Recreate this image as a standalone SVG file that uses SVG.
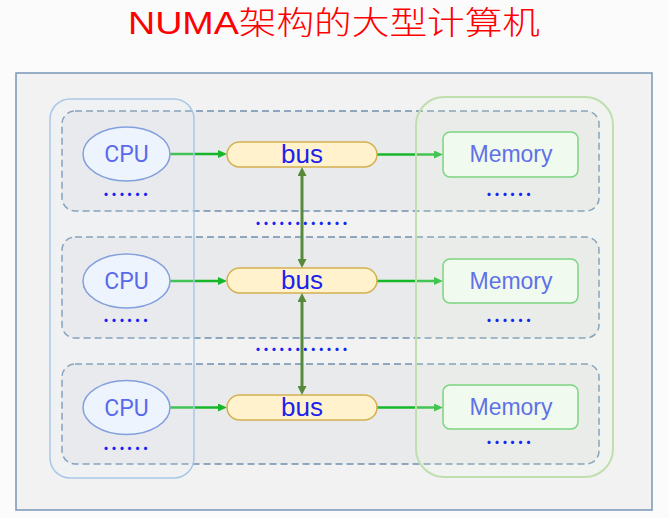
<svg xmlns="http://www.w3.org/2000/svg" width="669" height="518" viewBox="0 0 669 518">
  <style>
    .row { fill: #e9eaeb; stroke: #6f8eae; stroke-width: 1.5; stroke-dasharray: 7 4; }
    .cpu { fill: #f0f6ff; stroke: #6a8ad6; stroke-width: 1.5; }
    .bus { fill: #fff2cc; stroke: #d3b050; stroke-width: 1.5; }
    .mem { fill: #f3fbf1; stroke: #5fcc66; stroke-width: 1.5; }
    .t { font-family: "Liberation Sans", Arial, sans-serif; text-anchor: middle; }
    .tcpu { font-family: Roboto, "Liberation Sans", sans-serif; font-size: 23px; fill: #3246ea; text-anchor: middle; }
    .tbus { font-size: 26px; fill: #1b22f0; }
    .tmem { font-size: 23px; fill: #3a4ce8; }
    .dots { font-family: "Noto Sans CJK SC", sans-serif; font-size: 24px; fill: #1526f2; }
    .h { stroke: #16b82a; stroke-width: 2.6; fill: none; }
    .v { stroke: #568a3a; stroke-width: 3; fill: none; }
  </style>
  <defs>
    <marker id="ag" viewBox="0 0 9 8" refX="0" refY="4" markerWidth="9" markerHeight="8" markerUnits="userSpaceOnUse" orient="auto">
      <path d="M0,0 L9,4 L0,8 Z" fill="#16b82a"/>
    </marker>
    <marker id="av" viewBox="0 0 9 9" refX="0" refY="4.5" markerWidth="9" markerHeight="9" markerUnits="userSpaceOnUse" orient="auto">
      <path d="M0,0 L9,4.5 L0,9 Z" fill="#568a3a"/>
    </marker>
    <marker id="avs" viewBox="0 0 9 9" refX="0" refY="4.5" markerWidth="9" markerHeight="9" markerUnits="userSpaceOnUse" orient="auto-start-reverse">
      <path d="M0,0 L9,4.5 L0,9 Z" fill="#568a3a"/>
    </marker>
  </defs>

  <rect x="0" y="0" width="669" height="518" fill="#fbfbfb"/>

  <text x="334" y="34" font-family="'Liberation Sans', 'Noto Sans CJK SC', sans-serif" font-weight="300" font-size="32" fill="#ff0000" text-anchor="middle" textLength="412" lengthAdjust="spacingAndGlyphs">NUMA架构的大型计算机</text>

  <g id="frame">
    <rect x="16" y="73" width="636" height="437" fill="#f2f2f2" stroke="#7a96b8" stroke-width="1.5"/>
  </g>

  <g id="rows">
    <rect id="row1" class="row" x="62" y="111" width="537" height="100" rx="13"/>
    <rect id="row2" class="row" x="62" y="237" width="537" height="101" rx="13"/>
    <rect id="row3" class="row" x="62" y="364" width="537" height="100" rx="13"/>
  </g>

  <g id="connectors">
    <line class="h" x1="170" y1="154" x2="218" y2="154" marker-end="url(#ag)"/>
    <line class="h" x1="377" y1="154.5" x2="434" y2="154.5" marker-end="url(#ag)"/>
    <line class="h" x1="170" y1="281" x2="218" y2="281" marker-end="url(#ag)"/>
    <line class="h" x1="377" y1="281" x2="434" y2="281" marker-end="url(#ag)"/>
    <line class="h" x1="170" y1="407.5" x2="218" y2="407.5" marker-end="url(#ag)"/>
    <line class="h" x1="377" y1="407.5" x2="434" y2="407.5" marker-end="url(#ag)"/>
  </g>

  <g id="cpu1"><ellipse class="cpu" cx="126.5" cy="154" rx="43.5" ry="27"/><text class="tcpu" x="126.5" y="162">CPU</text></g>
  <g id="cpu2"><ellipse class="cpu" cx="126.5" cy="281" rx="43.5" ry="27"/><text class="tcpu" x="126.5" y="289">CPU</text></g>
  <g id="cpu3"><ellipse class="cpu" cx="126.5" cy="407.5" rx="43.5" ry="27"/><text class="tcpu" x="126.5" y="415.5">CPU</text></g>

  <g id="bus1"><rect class="bus" x="227" y="142" width="150" height="25" rx="12.5"/><text class="t tbus" x="302" y="163">bus</text></g>
  <g id="bus2"><rect class="bus" x="227" y="268" width="150" height="25" rx="12.5"/><text class="t tbus" x="302" y="289">bus</text></g>
  <g id="bus3"><rect class="bus" x="227" y="395" width="150" height="25" rx="12.5"/><text class="t tbus" x="302" y="416">bus</text></g>

  <g id="mem1"><rect class="mem" x="443" y="132" width="135" height="45" rx="7"/><text class="t tmem" x="511" y="162">Memory</text></g>
  <g id="mem2"><rect class="mem" x="443" y="259" width="135" height="44" rx="7"/><text class="t tmem" x="511" y="289">Memory</text></g>
  <g id="mem3"><rect class="mem" x="443" y="385" width="135" height="44" rx="7"/><text class="t tmem" x="511" y="415">Memory</text></g>

  <g id="cpu-column">
    <rect x="50" y="99" width="144" height="379" rx="20" fill="#e2ecf7" fill-opacity="0.22" stroke="#a9c8e8" stroke-width="1.5"/>
  </g>
  <g id="memory-column">
    <rect x="416" y="97" width="197" height="380" rx="28" fill="#e8f4e4" fill-opacity="0.22" stroke="#c0dfae" stroke-width="2"/>
  </g>

  <g id="ellipsis">
    <text class="dots" x="102" y="203" textLength="47.4">……</text>
    <text class="dots" x="102" y="329" textLength="47.4">……</text>
    <text class="dots" x="102" y="457" textLength="47.4">……</text>
    <text class="dots" x="485" y="203" textLength="47.4">……</text>
    <text class="dots" x="485" y="329" textLength="47.4">……</text>
    <text class="dots" x="485" y="451" textLength="47.4">……</text>
    <text class="dots" x="254" y="232" textLength="95">…………</text>
    <text class="dots" x="254" y="358" textLength="95">…………</text>
  </g>

  <g id="bus-links">
    <line class="v" x1="302" y1="176" x2="302" y2="259" marker-start="url(#avs)" marker-end="url(#av)"/>
    <line class="v" x1="302" y1="302" x2="302" y2="386" marker-start="url(#avs)" marker-end="url(#av)"/>
  </g>
</svg>
